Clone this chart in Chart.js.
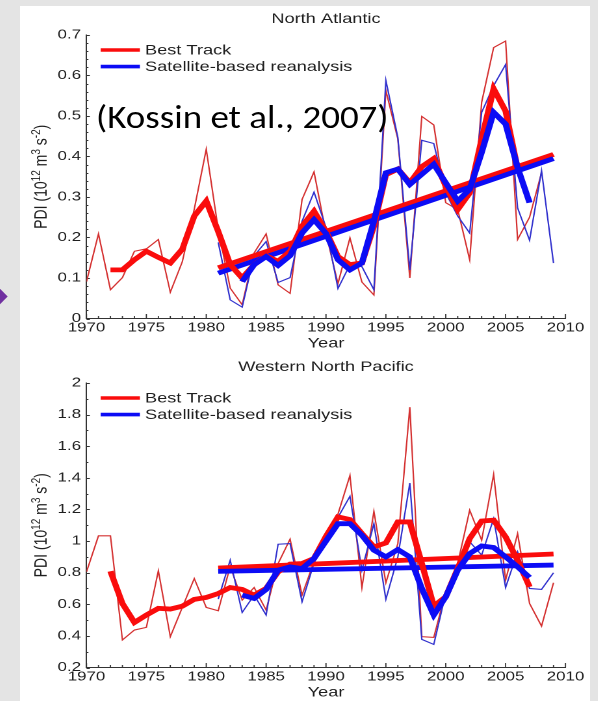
<!DOCTYPE html>
<html>
<head>
<meta charset="utf-8">
<script src="https://cdn.jsdelivr.net/npm/chart.js@4/dist/chart.umd.min.js"></script>
<style>
  html, body { margin: 0; padding: 0; width: 598px; height: 701px; overflow: hidden; background: #e4e4e4; }
  #panel { position: absolute; left: 20px; top: 6px; width: 570px; height: 695px; background: #fff; }
  .wrap { position: absolute; left: 20px; width: 438px; transform: scaleX(1.3); transform-origin: 0 0; }
  #wrapNA { top: 6px; height: 346px; }
  #wrapWNP { top: 352px; height: 349px; }
  #marker { position: absolute; left: -8.5px; top: 289.5px; width: 13px; height: 13px; background: #7030a0; transform: rotate(45deg); }
  #cite { position: absolute; left: 96px; top: 97px; font-family: Carlito, Calibri, Lato, sans-serif; font-size: 33px; line-height: 40px; color: #000; white-space: nowrap; transform: scaleX(1.12); transform-origin: 0 0; }
</style>
</head>
<body>
<div id="panel"></div>
<div id="marker"></div>
<div class="wrap" id="wrapNA"><canvas id="na" width="438" height="346"></canvas></div>
<div class="wrap" id="wrapWNP"><canvas id="wnp" width="438" height="349"></canvas></div>
<div id="cite">(Kossin et al., 2007)</div>
<script>
// ---- Power Dissipation Index (10^12 m^3 s^-2) ----
const legendLabels = ['Best Track', 'Satellite-based reanalysis'];
const yearTicks = [1970, 1975, 1980, 1985, 1990, 1995, 2000, 2005, 2010];

// North Atlantic
const naTicks = [0, 0.1, 0.2, 0.3, 0.4, 0.5, 0.6, 0.7];
const naBestStart = 1970;
const naBest = [0.091, 0.209, 0.071, 0.101, 0.166, 0.172, 0.195, 0.065, 0.14, 0.27,
                0.418, 0.22, 0.075, 0.034, 0.162, 0.209, 0.083, 0.062, 0.294, 0.362,
                0.21, 0.086, 0.199, 0.09, 0.058, 0.563, 0.443, 0.10, 0.499, 0.478,
                0.286, 0.269, 0.145, 0.534, 0.669, 0.685, 0.195, 0.25, 0.36];
const naSatStart = 1981;
const naSat = [0.188, 0.046, 0.028, 0.155, 0.19, 0.089, 0.101, 0.24, 0.312,
               0.225, 0.074, 0.133, 0.128, 0.071, 0.588, 0.447, 0.12, 0.44, 0.432,
               0.31, 0.253, 0.211, 0.509, 0.575, 0.627, 0.273, 0.193, 0.365, 0.137];
const naBestSmoothStart = 1972;
const naBestSmooth = [0.12, 0.12, 0.145, 0.166, 0.151, 0.137, 0.171, 0.253,
                      0.29, 0.215, 0.133, 0.10, 0.133, 0.155, 0.141, 0.166, 0.228, 0.265,
                      0.215, 0.153, 0.133, 0.137, 0.228, 0.355, 0.369, 0.335, 0.375, 0.395,
                      0.327, 0.269, 0.31, 0.443, 0.567, 0.512, 0.37];
const naSatSmoothStart = 1983;
const naSatSmooth = [0.091, 0.133, 0.153, 0.131, 0.155, 0.211, 0.244,
                     0.21, 0.145, 0.12, 0.137, 0.24, 0.36, 0.369, 0.331, 0.356, 0.381,
                     0.335, 0.29, 0.319, 0.41, 0.509, 0.48, 0.373, 0.286];
const naTrendYears = [1981, 2009];
const naTrendBest = [0.125, 0.405];
const naTrendSat = [0.112, 0.395];

// Western North Pacific
const wnpTicks = [0.2, 0.4, 0.6, 0.8, 1, 1.2, 1.4, 1.6, 1.8, 2];
const wnpBestStart = 1970;
const wnpBest = [0.805, 1.033, 1.033, 0.374, 0.437, 0.454, 0.812, 0.395, 0.58, 0.763,
                 0.58, 0.559, 0.84, 0.626, 0.706, 0.563, 0.858, 1.012, 0.658, 0.87,
                 1.03, 1.17, 1.415, 0.706, 1.188, 0.736, 0.984, 1.847, 0.395, 0.39,
                 0.68, 0.858, 1.195, 1.005, 1.422, 0.753, 1.047, 0.605, 0.462, 0.736];
const wnpSatStart = 1981;
const wnpSat = [0.633, 0.879, 0.548, 0.658, 0.532, 0.98, 0.984, 0.616, 0.86,
                1.02, 1.15, 1.283, 0.816, 1.11, 0.631, 0.9, 1.367, 0.378, 0.346,
                0.668, 0.837, 0.995, 0.911, 1.142, 0.706, 0.932, 0.70, 0.694, 0.799];
const wnpBestSmoothStart = 1972;
const wnpBestSmooth = [0.809, 0.605, 0.485, 0.532, 0.574, 0.57, 0.588, 0.631,
                       0.643, 0.668, 0.706, 0.694, 0.658, 0.70, 0.805, 0.854, 0.858, 0.89,
                       1.03, 1.153, 1.136, 1.047, 0.963, 0.988, 1.121, 1.121, 0.858, 0.589,
                       0.647, 0.826, 1.016, 1.127, 1.132, 1.026, 0.879, 0.71];
const wnpSatSmoothStart = 1983;
const wnpSatSmooth = [0.658, 0.637, 0.694, 0.816, 0.837, 0.826, 0.89,
                      1.0, 1.11, 1.11, 1.037, 0.942, 0.9, 0.946, 0.9, 0.70, 0.532,
                      0.647, 0.816, 0.921, 0.969, 0.959, 0.90, 0.837, 0.77];
const wnpTrendYears = [1981, 2009];
const wnpTrendBest = [0.829, 0.918];
const wnpTrendSat = [0.808, 0.848];

// ---- styling ----
const RED = 'rgb(250,12,12)', BLUE = 'rgb(12,12,245)';
const RED_THIN = 'rgb(212,48,48)', BLUE_THIN = 'rgb(48,48,205)';
const TEXT = '#1e1e1e', AXIS = '#333';
const FONT = '"Liberation Sans", Arial, Helvetica, sans-serif';
Chart.defaults.font.family = FONT;
Chart.defaults.color = TEXT;

const series = (start, vals) => vals.map((v, i) => ({ x: start + i, y: v }));
const pairs = (xs, ys) => xs.map((x, i) => ({ x, y: ys[i] }));

// MATLAB-like frame: inward ticks, title, axis titles and an in-axes legend
const framePlugin = {
  id: 'frame',
  beforeDatasetsDraw(chart, args, o) {
    const { ctx, chartArea: a, scales: { x, y } } = chart;
    ctx.save();
    ctx.strokeStyle = AXIS;
    ctx.lineWidth = 0.9;
    ctx.beginPath();
    const n = Math.round((y.max - y.min) / o.minorY);
    for (let i = 0; i <= n; i++) {
      const v = y.min + i * o.minorY;
      const major = o.yTicks.some(t => Math.abs(t - v) < 1e-6);
      const p = Math.round(y.getPixelForValue(v)) + 0.5;
      ctx.moveTo(a.left, p);
      ctx.lineTo(a.left + (major ? 2.6 : 1.5), p);
    }
    for (let yr = x.min; yr <= x.max; yr++) {
      const major = yearTicks.includes(yr);
      const p = x.getPixelForValue(yr);
      ctx.moveTo(p, a.bottom);
      ctx.lineTo(p, a.bottom - (major ? 4.5 : 2.5));
    }
    ctx.stroke();
    ctx.restore();
  },
  afterDraw(chart, args, o) {
    const { ctx, chartArea: a } = chart;
    const cx = (a.left + a.right) / 2;
    ctx.save();
    ctx.fillStyle = TEXT;
    ctx.textBaseline = 'middle';
    ctx.textAlign = 'center';
    ctx.font = '14px ' + FONT;
    ctx.fillText(o.title, cx, a.top - 16);
    ctx.fillText('Year', cx, a.bottom + 25);

    // y-axis title with superscripts
    const parts = [['PDI (10', 0], ['12', 1], [' m', 0], ['3', 1], [' s', 0], ['-2', 1], [')', 0]];
    const big = '14px ' + FONT, small = '10px ' + FONT;
    let total = 0;
    parts.forEach(([t, s]) => { ctx.font = s ? small : big; total += ctx.measureText(t).width; });
    ctx.translate(15.4, (a.top + a.bottom) / 2);
    ctx.rotate(-Math.PI / 2);
    ctx.textAlign = 'left';
    ctx.textBaseline = 'alphabetic';
    let px = -total / 2;
    parts.forEach(([t, s]) => {
      ctx.font = s ? small : big;
      ctx.fillText(t, px, s ? 0 : 5);
      px += ctx.measureText(t).width;
    });
    ctx.restore();

    // legend
    ctx.save();
    ctx.font = '14px ' + FONT;
    ctx.textBaseline = 'middle';
    ctx.textAlign = 'left';
    const colors = [RED, BLUE];
    legendLabels.forEach((lab, i) => {
      const ly = a.top + 15 + i * 16.6;
      ctx.strokeStyle = colors[i];
      ctx.lineWidth = 3.6;
      ctx.beginPath();
      ctx.moveTo(a.left + 10.9, ly);
      ctx.lineTo(a.left + 41.1, ly);
      ctx.stroke();
      ctx.fillStyle = TEXT;
      ctx.fillText(lab, a.left + 45, ly + 0.5);
    });
    ctx.restore();
  }
};

function makeChart(id, d) {
  const W = 438, H = document.getElementById(id).height;
  const LEFT = 51.15, RIGHT = 419.6;
  return new Chart(document.getElementById(id), {
    type: 'line',
    data: {
      datasets: [
        { label: legendLabels[1] + ' (smoothed)', data: d.satSmooth, borderColor: BLUE, borderWidth: 4.8, order: 1 },
        { label: legendLabels[0] + ' (smoothed)', data: d.bestSmooth, borderColor: RED, borderWidth: 4.8, order: 2 },
        { label: legendLabels[1] + ' trend', data: d.trendSat, borderColor: BLUE, borderWidth: 4.8, order: 3 },
        { label: legendLabels[0] + ' trend', data: d.trendBest, borderColor: RED, borderWidth: 4.8, order: 4 },
        { label: legendLabels[1], data: d.sat, borderColor: BLUE_THIN, borderWidth: 1.1, order: 5 },
        { label: legendLabels[0], data: d.best, borderColor: RED_THIN, borderWidth: 1.1, order: 6 }
      ]
    },
    options: {
      responsive: false,
      animation: false,
      devicePixelRatio: 2,
      layout: { padding: { left: 0, right: W - RIGHT, top: d.top, bottom: 0 } },
      elements: { point: { radius: 0, hoverRadius: 0 }, line: { tension: 0, fill: false } },
      plugins: {
        legend: { display: false },
        tooltip: { enabled: false },
        title: { display: false },
        frame: { title: d.title, yTicks: d.yTicks, minorY: d.minorY }
      },
      events: [],
      scales: {
        x: {
          type: 'linear', min: 1970, max: 2010,
          afterBuildTicks: s => { s.ticks = yearTicks.map(v => ({ value: v })); },
          afterFit: s => { s.height = H - d.top - d.plotH; },
          ticks: { autoSkip: false, maxRotation: 0, padding: 1.5, font: { size: 13 }, color: TEXT, callback: v => String(v) },
          grid: { drawOnChartArea: false, drawTicks: false },
          border: { display: true, color: AXIS, width: 1 }
        },
        y: {
          type: 'linear', min: d.yTicks[0], max: d.yTicks[d.yTicks.length - 1],
          afterBuildTicks: s => { s.ticks = d.yTicks.map(v => ({ value: v })); },
          afterFit: s => { s.width = LEFT; },
          ticks: { padding: 4.2, font: { size: 13 }, color: TEXT, callback: v => String(v) },
          grid: { drawOnChartArea: false, drawTicks: false },
          border: { display: true, color: AXIS, width: 1 }
        }
      }
    },
    plugins: [framePlugin]
  });
}

makeChart('na', {
  title: 'North Atlantic', yTicks: naTicks, minorY: 0.02, top: 29, plotH: 283.5,
  best: series(naBestStart, naBest), sat: series(naSatStart, naSat),
  bestSmooth: series(naBestSmoothStart, naBestSmooth), satSmooth: series(naSatSmoothStart, naSatSmooth),
  trendBest: pairs(naTrendYears, naTrendBest), trendSat: pairs(naTrendYears, naTrendSat)
});

makeChart('wnp', {
  title: 'Western North Pacific', yTicks: wnpTicks, minorY: 0.1, top: 31, plotH: 284.5,
  best: series(wnpBestStart, wnpBest), sat: series(wnpSatStart, wnpSat),
  bestSmooth: series(wnpBestSmoothStart, wnpBestSmooth), satSmooth: series(wnpSatSmoothStart, wnpSatSmooth),
  trendBest: pairs(wnpTrendYears, wnpTrendBest), trendSat: pairs(wnpTrendYears, wnpTrendSat)
});
</script>
</body>
</html>
